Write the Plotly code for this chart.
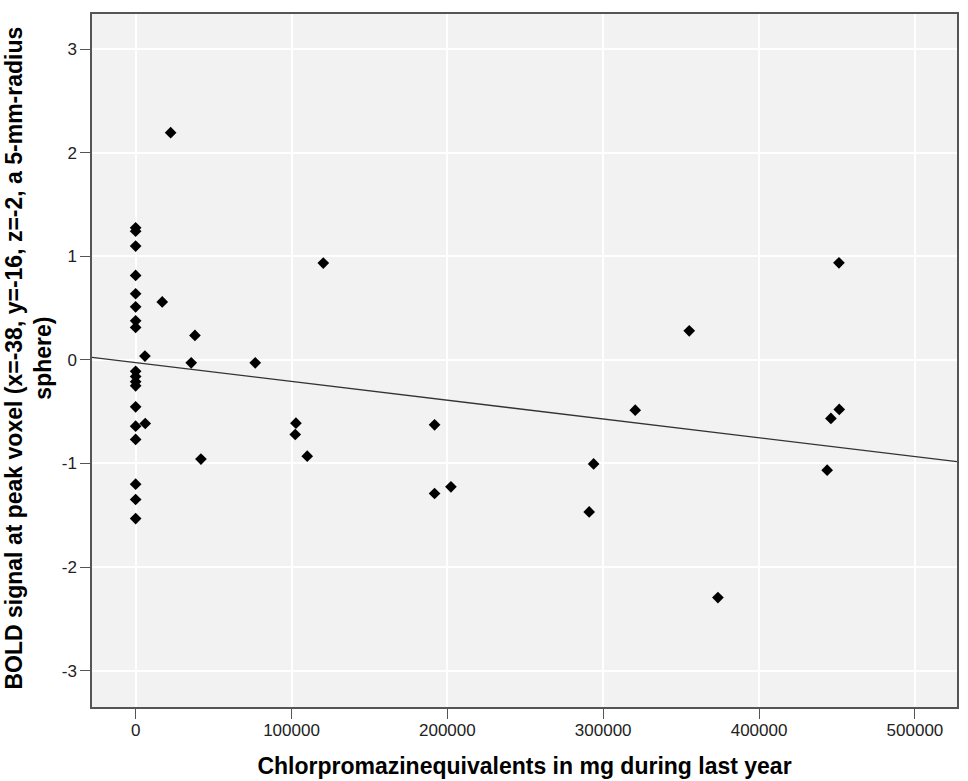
import numpy as np
import plotly.graph_objects as go

# Chlorpromazine equivalents (mg, last year) and BOLD signal
cpz = [0, 0, 0, 0, 0, 0, 0, 0, 0, 0, 0, 0, 0, 0, 0, 0, 0, 0,
       22460, 120400, 17070, 38050, 5970, 35670, 76740, 6160,
       102850, 102400, 110100, 41900, 191800, 191800, 202300,
       320550, 293850, 291000, 355200, 373600,
       451250, 451450, 446100, 443700]
bold = [1.276, 1.244, 1.10, 0.816, 0.639, 0.513, 0.378, 0.314,
        -0.11, -0.16, -0.21, -0.25, -0.453, -0.64, -0.768, -1.20, -1.348, -1.532,
        2.195, 0.935, 0.56, 0.237, 0.037, -0.028, -0.028, -0.614,
        -0.611, -0.72, -0.93, -0.958, -0.627, -1.29, -1.226,
        -0.485, -1.004, -1.468, 0.281, -2.295,
        0.938, -0.478, -0.565, -1.065]

x_ticks = [0, 100000, 200000, 300000, 400000, 500000]
y_ticks = [-3, -2, -1, 0, 1, 2, 3]
x_range = [-28000, 527000]
y_range = [-3.352, 3.341]

slope, intercept = np.polyfit(cpz, bold, 1)
fit_x = np.array(x_range, dtype=float)
fit_y = intercept + slope * fit_x

FONT = "Liberation Sans, Arial, sans-serif"

fig = go.Figure()
fig.add_trace(go.Scatter(
    x=fit_x, y=fit_y, mode="lines",
    line=dict(color="#333333", width=1.3), showlegend=False, hoverinfo="skip"))
fig.add_trace(go.Scatter(
    x=cpz, y=bold, mode="markers",
    marker=dict(symbol="diamond", size=9, color="black"), showlegend=False))

axis_common = dict(
    showline=True, linecolor="#555555", linewidth=1.5, mirror=True,
    showgrid=True, gridcolor="white", gridwidth=1.5, zeroline=False,
    ticks="outside", ticklen=10, tickcolor="#555555", tickwidth=1.3,
    tickfont=dict(family=FONT, size=17, color="#222222"),
)

fig.update_xaxes(
    range=x_range, tickvals=x_ticks, ticktext=[str(v) for v in x_ticks],
    ticklabelstandoff=-3,
    title=dict(text="<b>Chlorpromazinequivalents in mg during last year</b>",
               font=dict(family=FONT, size=23, color="black"),
               standoff=19),
    **axis_common)
fig.update_yaxes(
    range=y_range, tickvals=y_ticks, ticktext=[str(v) for v in y_ticks],
    **axis_common)

fig.add_annotation(
    text="<b>BOLD signal at peak voxel (x=-38, y=-16, z=-2, a 5-mm-radius<br>sphere)</b>",
    xref="paper", yref="paper", x=0, y=0.5, xshift=-64, yshift=2,
    xanchor="center", yanchor="middle", textangle=-90, showarrow=False,
    font=dict(family=FONT, size=23, color="black"))

fig.update_layout(
    width=968, height=781,
    margin=dict(l=92, r=11, t=14, b=74, autoexpand=False),
    paper_bgcolor="white", plot_bgcolor="#f2f2f2",
    font=dict(family=FONT),
)

# remove the default 8px page margin so the figure fills the window exactly
fig.write_html("out.html",
               config={"displayModeBar": False},
               post_script="document.body.style.margin='0';document.body.style.overflow='hidden';")
